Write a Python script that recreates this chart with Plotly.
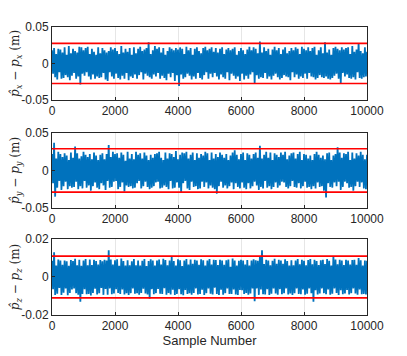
import numpy as np
import plotly.graph_objects as go

# estimation error samples, in mm (thinned to 301 points)
err_x_mm = [
    18, -14, 21, -19, 13, -22, 20, -12, 19, -21, 15, -20, 22, -16, 12, -19, 24, -23, 14, -17,
    20, -13, 17, -21, 15, -18, 23, -29, 22, -14, 18, -17, 21, -12, 23, -18, 13, -22, 20, -15,
    16, -21, 12, -18, 22, -20, 14, -19, 21, -13, 18, -22, 15, -24, 17, -12, 22, -18, 19, -21,
    21, -14, 17, -20, 13, -22, 24, -17, 15, -21, 20, -13, 16, -23, 21, -18, 12, -20, 22, -15,
    14, -21, 20, -16, 23, -12, 17, -22, 19, -14, 21, -17, 29, -19, 13, -21, 18, -15, 24, -18,
    20, -13, 22, -21, 15, -17, 21, -20, 12, -23, 17, -14, 22, -19, 20, -13, 18, -24, 21, -16,
    19, -31, 22, -15, 20, -21, 13, -19, 23, -14, 18, -17, 21, -22, 12, -18, 20, -21, 22, -13,
    17, -20, 14, -22, 21, -16, 23, -12, 18, -21, 20, -14, 22, -19, 16, -13, 21, -18, 15, -22,
    20, -15, 22, -19, 13, -21, 19, -12, 21, -23, 18, -14, 20, -17, 22, -21, 12, -18, 17, -24,
    21, -14, 18, -22, 13, -17, 19, -21, 23, -15, 18, -12, 22, -27, 20, -16, 14, -21, 30, -19,
    15, -20, 22, -13, 17, -21, 20, -18, 12, -22, 19, -17, 23, -14, 18, -19, 21, -22, 13, -20,
    19, -16, 22, -18, 14, -19, 17, -23, 21, -12, 18, -19, 22, -15, 20, -21, 13, -18, 23, -20,
    20, -14, 18, -21, 22, -13, 17, -18, 21, -19, 23, -22, 12, -20, 18, -16, 22, -19, 14, -20,
    29, -18, 15, -21, 19, -22, 12, -20, 21, -17, 23, -14, 20, -21, 18, -27, 22, -13, 19, -18,
    21, -15, 22, -20, 13, -21, 24, -19, 16, -22, 19, -12, 28, -20, 17, -21, 14, -19, 22, -18,
    16,
]
err_y_mm = [
    22, -17, 37, -35, 16, -23, 25, -14, 22, -26, 18, -21, 23, -15, 20, -25, 14, -21, 24, -23,
    17, -22, 32, -15, 23, -25, 16, -21, 19, -24, 25, -14, 21, -23, 18, -20, 22, -27, 15, -21,
    24, -16, 20, -23, 14, -25, 21, -17, 23, -20, 15, -26, 22, -14, 34, -23, 18, -22, 25, -15,
    22, -14, 23, -25, 17, -22, 24, -16, 21, -28, 13, -20, 25, -22, 16, -21, 22, -24, 15, -23,
    25, -17, 21, -14, 23, -24, 16, -21, 24, -15, 20, -22, 14, -25, 21, -23, 17, -21, 22, -16,
    23, -15, 25, -24, 17, -23, 14, -20, 24, -22, 16, -25, 23, -14, 22, -24, 18, -23, 26, -16,
    15, -23, 21, -30, 24, -17, 23, -14, 25, -24, 16, -26, 21, -15, 24, -22, 14, -21, 23, -25,
    17, -24, 22, -15, 20, -22, 25, -16, 23, -24, 14, -20, 24, -23, 16, -25, 22, -31, 18, -21,
    24, -15, 21, -23, 17, -20, 22, -24, 14, -21, 20, -16, 24, -25, 27, -17, 21, -22, 15, -24,
    22, -16, 24, -23, 14, -25, 23, -17, 21, -24, 16, -21, 22, -15, 24, -20, 17, -26, 33, -22,
    16, -24, 21, -14, 25, -23, 17, -21, 24, -25, 14, -22, 23, -16, 21, -23, 18, -20, 24, -15,
    21, -16, 25, -22, 15, -24, 20, -21, 23, -14, 24, -22, 16, -23, 22, -17, 25, -24, 14, -21,
    22, -15, 21, -23, 16, -22, 20, -25, 14, -21, 22, -24, 25, -16, 21, -22, 17, -21, 20, -27,
    15, -36, 23, -17, 24, -22, 14, -23, 20, -16, 22, -21, 31, -15, 24, -26, 17, -22, 23, -15,
    22, -17, 25, -23, 14, -22, 24, -27, 16, -21, 23, -15, 20, -22, 25, -16, 21, -24, 15, -25,
    21,
]
err_z_mm = [
    8.5, -6.5, 13.0, -9.5, 6.0, -8.8, 9.2, -5.8, 8.7, -9.4, 6.4, -8.3, 8.6, -6.1, 8.2, -9.6, 5.9, -8.4, 8.9, -6.6,
    8.4, -6.0, 9.6, -8.5, 6.2, -9.3, 9.1, -13.0, 5.9, -9.0, 8.7, -6.4, 9.4, -9.1, 6.1, -8.9, 9.2, -9.7, 6.3, -8.4,
    9.0, -6.2, 8.4, -9.2, 6.5, -8.6, 8.9, -5.8, 8.3, -9.4, 9.1, -6.3, 8.7, -9.3, 14.0, -6.0, 9.2, -9.1, 6.5, -8.7,
    8.8, -6.4, 9.3, -8.4, 5.9, -9.0, 9.7, -6.6, 8.4, -9.2, 6.0, -8.6, 8.8, -9.4, 6.2, -8.5, 8.3, -6.1, 9.5, -8.8,
    6.1, -8.6, 8.7, -9.3, 6.0, -8.4, 8.5, -6.2, 9.4, -8.7, 5.8, -9.2, 8.4, -11.5, 9.3, -6.4, 8.6, -9.1, 6.0, -8.5,
    8.7, -6.3, 9.2, -8.8, 6.5, -9.0, 9.6, -5.9, 8.9, -9.3, 6.1, -8.4, 8.6, -9.2, 10.5, -6.7, 8.4, -9.5, 6.0, -8.9,
    9.3, -6.5, 8.8, -9.1, 5.8, -9.6, 8.7, -6.8, 9.4, -9.0, 6.5, -8.6, 9.2, -9.3, 6.9, -8.4, 9.1, -6.0, 8.6, -9.2,
    6.4, -9.0, 9.3, -6.7, 8.8, -9.4, 6.0, -8.5, 8.7, -6.1, 9.5, -8.8, 6.5, -9.2, 9.1, -5.6, 8.9, -9.0, 6.3, -9.4,
    9.0, -6.7, 8.6, -9.3, 6.4, -8.5, 8.8, -6.1, 9.2, -8.9, 5.4, -9.0, 9.7, -6.6, 8.7, -9.2, 6.0, -9.5, 8.5, -6.8,
    9.1, -6.9, 8.7, -9.0, 6.5, -8.4, 8.9, -9.3, 6.0, -8.7, 8.6, -6.1, 9.3, -12.8, 8.8, -6.0, 8.5, -9.4, 11.0, -6.6,
    14.0, -9.1, 6.8, -9.2, 9.0, -6.5, 8.7, -9.4, 6.2, -8.8, 8.5, -6.0, 9.6, -8.7, 6.9, -9.3, 9.1, -6.4, 8.6, -9.1,
    6.9, -8.6, 9.3, -6.0, 8.4, -9.2, 6.0, -8.7, 8.8, -9.5, 6.2, -8.5, 8.6, -6.0, 9.4, -8.9, 6.7, -9.1, 9.0, -6.6,
    8.5, -9.3, 6.1, -8.8, 8.9, -6.0, 9.5, -8.6, 6.7, -13.0, 9.0, -6.9, 8.4, -9.2, 6.3, -8.7, 8.8, -6.0, 9.1, -8.5,
    6.8, -9.1, 9.4, -6.6, 8.5, -9.3, 6.0, -8.8, 11.0, -6.0, 9.2, -8.4, 6.7, -9.5, 9.0, -6.9, 8.6, -9.1, 6.3, -8.7,
    9.0, -6.8, 8.6, -9.2, 6.5, -8.5, 8.9, -6.0, 9.1, -8.7, 6.4, -9.3, 10.0, -6.6, 8.8, -9.1, 6.0, -8.9, 8.7, -9.2,
    8.5,
]

# 3-sigma style bounds (m)
bound_x = 0.0275
bound_y = 0.029
bound_z = 0.011

x_ticks = [0, 2000, 4000, 6000, 8000, 10000]
n_samples = 10000

samples = np.arange(len(err_x_mm)) * (n_samples / (len(err_x_mm) - 1))

blue = "#0072BD"
red = "#FF0000"
tickfont = dict(family="Liberation Sans, Arial", size=12, color="#262626")

panels = [
    (err_x_mm, bound_x, [-0.05, 0, 0.05], ["-0.05", "0", "0.05"], [-0.05, 0.05],
     "<i>p̂<sub>x</sub></i> − <i>p<sub>x</sub></i> (m)", [0.747, 1.0]),
    (err_y_mm, bound_y, [-0.05, 0, 0.05], ["-0.05", "0", "0.05"], [-0.05, 0.05],
     "<i>p̂<sub>y</sub></i> − <i>p<sub>y</sub></i> (m)", [0.372, 0.632]),
    (err_z_mm, bound_z, [-0.02, 0, 0.02], ["-0.02", "0", "0.02"], [-0.02, 0.02],
     "<i>p̂<sub>z</sub></i> − <i>p<sub>z</sub></i> (m)", [0.0, 0.264]),
]

fig = go.Figure()
layout = {}
for k, (vals, bnd, yt, ytt, yr, title, dom) in enumerate(panels):
    ax = "" if k == 0 else str(k + 1)
    fig.add_trace(go.Scatter(
        x=samples, y=np.array(vals) / 1000.0, mode="lines",
        line=dict(color=blue, width=1.8), xaxis="x" + ax, yaxis="y" + ax,
        showlegend=False, hoverinfo="skip"))
    for b in (bnd, -bnd):
        fig.add_trace(go.Scatter(
            x=[0, n_samples], y=[b, b], mode="lines",
            line=dict(color=red, width=1.6), xaxis="x" + ax, yaxis="y" + ax,
            showlegend=False, hoverinfo="skip", cliponaxis=False))
    layout["xaxis" + ax] = dict(
        domain=[0, 1], anchor="y" + ax, range=[0, n_samples], automargin=False,
        tickvals=x_ticks, ticktext=[str(t) for t in x_ticks],
        showgrid=True, gridcolor="#E6E6E6", gridwidth=1,
        showline=True, linecolor="#262626", linewidth=1, mirror=True,
        ticks="inside", ticklen=3, tickcolor="#262626",
        tickfont=tickfont, zeroline=False,
    )
    layout["yaxis" + ax] = dict(
        domain=dom, anchor="x" + ax, range=yr, automargin=False,
        tickvals=yt, ticktext=ytt,
        showgrid=True, gridcolor="#E6E6E6", gridwidth=1,
        showline=True, linecolor="#262626", linewidth=1, mirror=True,
        ticks="inside", ticklen=3, tickcolor="#262626",
        tickfont=tickfont, zeroline=False,
        title=dict(text=title, standoff=4,
                   font=dict(family="DejaVu Serif", size=12, color="#262626")),
    )

layout["xaxis3"]["title"] = dict(text="Sample Number", standoff=2,
                                 font=dict(family="Liberation Sans, Arial", size=13, color="#262626"))

# the page body adds an 8px offset, so the figure is 8px smaller
fig.update_layout(
    width=399, height=348,
    margin=dict(l=44, r=40, t=19, b=41),
    plot_bgcolor="white", paper_bgcolor="white",
    **layout,
)

fig.write_html("out.html")
